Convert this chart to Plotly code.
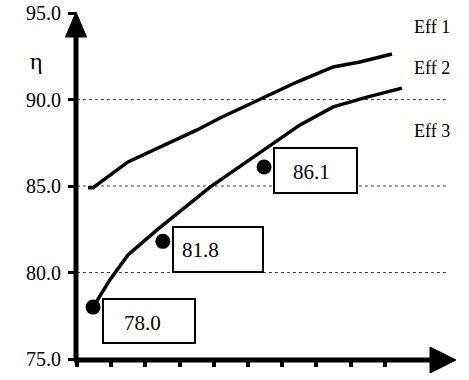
import plotly.graph_objects as go

# ---- data ----
eff1_x = [0.32, 0.47, 1.49, 2.43, 3.51, 4.18, 5.35, 6.43, 7.49, 8.27, 9.21]
eff1_y = [84.9, 84.9, 86.39, 87.25, 88.24, 88.93, 90.03, 91.01, 91.88, 92.17, 92.63]
eff2_x = [0.47, 0.96, 1.49, 2.34, 3.89, 5.64, 6.52, 7.49, 8.48, 9.5]
eff2_y = [78.0, 79.57, 81.01, 82.46, 84.94, 87.31, 88.53, 89.57, 90.14, 90.66]
point_x = [0.47, 2.51, 5.47]
point_y = [78.0, 81.8, 86.1]
point_labels = ["78.0", "81.8", "86.1"]
series_names = ["Eff 1", "Eff 2", "Eff 3"]
y_ticks = [75, 80, 85, 90, 95]
x_ticks = [0, 1, 2, 3, 4, 5, 6, 7, 8, 9]
grid_levels = [80, 85, 90]

# ---- layout helpers (pixel geometry of the frame) ----
W, H = 469, 380
L, R, T, B = 77, 14, 13, 21
PW, PH = W - L - R, H - T - B
XMAX = PW / 34.2
FONT = "Liberation Serif"


def px(xp):
    return (xp - L) / PW


def py(yp):
    return (H - B - yp) / PH


fig = go.Figure()

# gridlines
shapes = []
for g in grid_levels:
    shapes.append(dict(type="line", xref="x", yref="y", x0=0, x1=10.85, y0=g, y1=g,
                       line=dict(color="#444", width=1, dash="dot"), layer="below"))

fig.add_trace(go.Scatter(x=eff1_x, y=eff1_y, mode="lines", name=series_names[0],
                         line=dict(color="black", width=3.5), showlegend=False))
fig.add_trace(go.Scatter(x=eff2_x, y=eff2_y, mode="lines", name=series_names[1],
                         line=dict(color="black", width=3.5), showlegend=False))
fig.add_trace(go.Scatter(x=point_x, y=point_y, mode="markers", showlegend=False,
                         marker=dict(color="black", size=15)))

# label boxes (pixel offsets relative to the frame)
box_px = [(103, 195, 299, 343), (173, 263, 227, 272), (274, 357, 148, 193)]
text_px = [(142, 323), (200, 250), (311, 172)]
annotations = []
for (x0, x1, y0, y1), (tx, ty), lab in zip(box_px, text_px, point_labels):
    shapes.append(dict(type="rect", xref="paper", yref="paper",
                       x0=px(x0), x1=px(x1), y0=py(y1), y1=py(y0),
                       line=dict(color="black", width=2), fillcolor="white", layer="above"))
    annotations.append(dict(xref="paper", yref="paper", x=px(tx), y=py(ty), text=lab,
                            showarrow=False, font=dict(family=FONT, size=21, color="black"),
                            xanchor="center", yanchor="middle"))

# series labels on the right
for name, ty in zip(series_names, [27, 68, 131]):
    annotations.append(dict(xref="paper", yref="paper", x=px(412), y=py(ty), text=name,
                            showarrow=False, font=dict(family=FONT, size=18, color="black"),
                            xanchor="left", yanchor="middle"))

# eta label
annotations.append(dict(xref="paper", yref="paper", x=px(36), y=py(61), text="η",
                        showarrow=False, font=dict(family=FONT, size=24, color="black"),
                        xanchor="center", yanchor="middle"))

# axes lines and arrowheads
shapes.append(dict(type="line", xref="paper", yref="paper", x0=px(76), x1=px(76),
                   y0=py(361), y1=py(36), line=dict(color="black", width=5)))
shapes.append(dict(type="line", xref="paper", yref="paper", x0=px(74), x1=px(432),
                   y0=py(360), y1=py(360), line=dict(color="black", width=5)))
shapes.append(dict(type="path", xref="paper", yref="paper",
                   path=f"M {px(76)} {py(12)} L {px(65.5)} {py(37)} L {px(86.5)} {py(37)} Z",
                   fillcolor="black", line=dict(color="black", width=1)))
shapes.append(dict(type="path", xref="paper", yref="paper",
                   path=f"M {px(456)} {py(360)} L {px(430)} {py(347)} L {px(430)} {py(373)} Z",
                   fillcolor="black", line=dict(color="black", width=1)))

fig.update_layout(
    width=W, height=H,
    margin=dict(l=L, r=R, t=T, b=B, pad=0, autoexpand=False),
    paper_bgcolor="white", plot_bgcolor="white",
    shapes=shapes, annotations=annotations,
    showlegend=False,
    font=dict(family=FONT, size=20, color="black"),
    xaxis=dict(range=[0, XMAX], showgrid=False, zeroline=False, showline=False,
               tickvals=x_ticks, showticklabels=False, ticks="outside", automargin=False,
               ticklen=7, tickwidth=4, tickcolor="black", fixedrange=True),
    yaxis=dict(range=[75, 95], showgrid=False, zeroline=False, showline=False,
               tickvals=y_ticks, tickformat=".1f", ticks="outside", automargin=False,
               ticklen=8, tickwidth=3, tickcolor="black", ticklabelstandoff=3,
               tickfont=dict(family=FONT, size=20, color="black"), fixedrange=True),
)

fig.write_html("out.html", config={"displayModeBar": False},
               post_script="document.body.style.margin='0';document.body.style.overflow='hidden';")
